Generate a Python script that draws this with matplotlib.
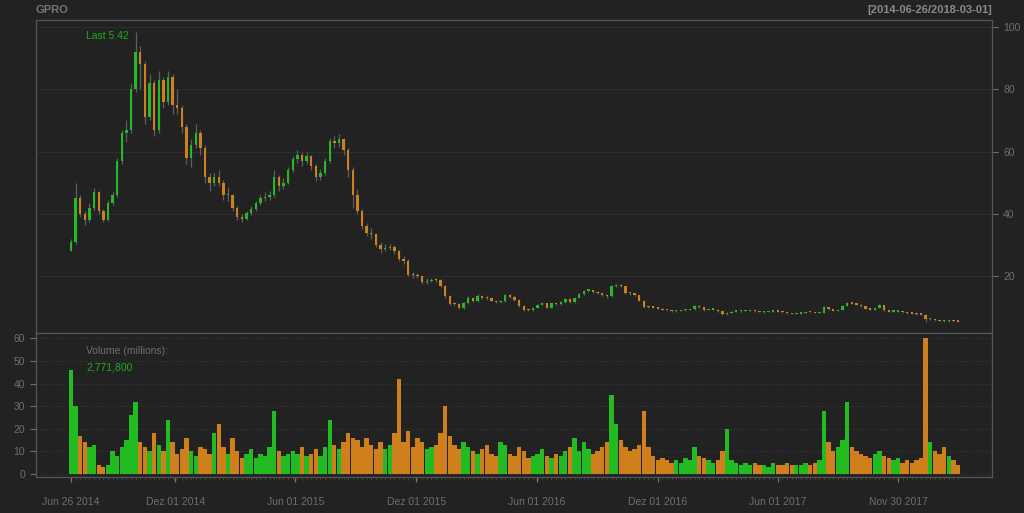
import pandas as pd
import matplotlib
matplotlib.use("Agg")
import matplotlib.pyplot as plt
import matplotlib.dates as mdates

plt.rcParams["font.family"] = ["Liberation Sans", "DejaVu Sans"]

BG = "#222222"
FRAME = "#555555"
TXT = "#6e6e6e"
UP = "#22bb22"
DN = "#cf7f1c"
WICK = "#5e5e5e"
GREEN_TXT = "#1aae1a"

# weekly candles (one value per week, starting 2014-06-26)
start_date = "2014-06-26"
first_open = 28.0
closes = [
    31, 45, 40, 38, 42, 47, 41, 38, 43.6, 46, 57, 66, 67, 80, 92, 88, 71, 82, 67, 83,
    76, 84, 75, 74, 68, 58, 62, 66, 61, 52, 50, 52, 50, 46, 46, 42, 39, 38.5, 40.3, 41.5,
    43.5, 45, 45.5, 46, 52, 49, 50, 54, 57.5, 59, 57, 58.5, 55.5, 52, 53, 57, 63.5, 62.8, 64, 60.5,
    54, 46, 41, 36, 34, 33.5, 30, 28.8, 29, 29.5, 28, 25.5, 25, 20.5, 20.3, 20, 18, 18.5, 18.8, 18.7,
    17, 13.5, 11.2, 11, 9.8, 11.4, 12.9, 12, 13.8, 13, 12.9, 12.2, 11.8, 12, 14, 13.4, 12.5, 10.5, 9.2, 9,
    9.8, 10.8, 11.3, 9.9, 11.3, 11, 11.6, 12.8, 11.6, 13, 14.3, 15.4, 15.5, 15, 14.5, 13.9, 13.5, 16.8, 17.2, 16.8,
    14.6, 14.5, 14, 12.2, 10.2, 10, 9.9, 9.6, 9.2, 9, 8.8, 8.9, 9, 9.2, 9.4, 10.5, 10, 9.1, 9.3, 9.3,
    8.7, 7.9, 8.2, 8.6, 8.7, 8.8, 8.9, 9, 8.8, 8.5, 8.5, 8.6, 8.7, 8.6, 8.5, 8.1, 7.9, 8, 8.2, 8.5,
    8.4, 8.2, 8.3, 10.1, 9.5, 8.9, 9.1, 10.5, 11.3, 11.2, 10.9, 10.4, 9.6, 9.3, 9.8, 10.7, 9.1, 8.6, 8.6, 8.7,
    8.4, 8.1, 8, 7.9, 7.7, 6.2, 6.2, 5.9, 5.7, 5.5, 5.6, 5.5, 5.42,
]
highs = [
    32, 49.9, 46, 41, 43.5, 48.3, 47.5, 41.5, 44.5, 47, 58, 67, 70, 82, 98.5, 94, 89, 85, 83, 86,
    84, 86, 85, 80, 75, 69, 64, 69, 67, 62, 53, 53, 54, 51, 48.5, 46.5, 42.5, 40, 41, 42.5,
    44, 46, 47, 47.5, 54, 52.5, 51.5, 55, 58.5, 60.5, 60, 60, 59, 56, 54.5, 58, 64.5, 65, 65.5, 64.5,
    61, 55, 48, 41.5, 37, 35.5, 34, 31, 30.5, 30.5, 30, 28.5, 26.5, 25.5, 21.5, 21, 20.2, 19.5, 19.5, 19.5,
    19, 17.2, 14, 11.8, 11.3, 11.8, 13.5, 13.2, 14.3, 14, 13.5, 13.1, 12.5, 12.5, 14.4, 14.2, 13.6, 12.6, 10.6, 9.5,
    10, 11, 11.6, 11.4, 11.5, 11.5, 11.9, 13, 12.9, 13.3, 14.6, 15.7, 15.9, 15.7, 15.2, 14.7, 14.1, 17.1, 17.6, 17.4,
    16.9, 15, 14.7, 14.1, 12.3, 10.4, 10.2, 10.1, 9.7, 9.3, 9.1, 9.1, 9.2, 9.4, 9.6, 10.9, 10.6, 10.1, 9.5, 9.5,
    9.4, 8.8, 8.4, 8.8, 8.9, 9, 9.1, 9.2, 9.1, 8.9, 8.7, 8.8, 8.9, 8.8, 8.7, 8.6, 8.2, 8.2, 8.3, 8.6,
    8.6, 8.5, 8.4, 10.3, 10.2, 9.6, 9.3, 10.7, 11.6, 11.5, 11.3, 11, 10.5, 9.7, 10, 11, 10.8, 9.2, 8.8, 8.9,
    8.8, 8.5, 8.2, 8.1, 8, 7.8, 6.5, 6.3, 6, 5.8, 5.8, 5.7, 5.6,
]
lows = [
    28, 30.5, 39, 36.4, 37.5, 41, 40, 37.5, 37.8, 43, 45.5, 56, 63, 66, 79, 80, 69, 70, 65, 66,
    74, 75, 72, 72, 66, 56, 55, 61, 59, 50, 47.5, 49, 49, 44.5, 44, 41, 38, 37.5, 38, 39.5,
    41, 43, 44, 44.5, 45.5, 47.5, 48, 49.5, 53.5, 56.5, 55.5, 56, 54, 50.5, 51, 52.5, 56.5, 61, 61.5, 59,
    52, 42, 40, 35, 33, 32, 29.5, 27.5, 28, 28.5, 27, 25, 24, 20, 19.5, 19.3, 17.5, 17.5, 18, 18,
    16.5, 13, 10.8, 10.4, 9.4, 9.6, 11.2, 11.6, 11.8, 12.6, 12.5, 11.9, 11.4, 11.5, 11.8, 13, 12.2, 10.2, 8.9, 8.8,
    8.9, 9.7, 10.6, 9.7, 9.8, 10.8, 10.9, 11.5, 11.4, 11.5, 12.9, 14.1, 15, 14.7, 14.2, 13.6, 13.1, 13.4, 16.5, 16.4,
    14.3, 14.1, 13.6, 11.9, 9.9, 9.8, 9.7, 9.4, 9, 8.8, 8.6, 8.6, 8.7, 8.9, 9.1, 9.3, 9.8, 8.9, 9, 9.1,
    8.5, 7.6, 7.7, 8.1, 8.5, 8.6, 8.7, 8.8, 8.6, 8.4, 8.3, 8.4, 8.5, 8.4, 8.3, 8, 7.8, 7.8, 7.9, 8.1,
    8.3, 8.1, 8.1, 8.2, 9.3, 8.7, 8.8, 9, 10.4, 11, 10.7, 10.2, 9.4, 9.1, 9.2, 9.7, 8.9, 8.4, 8.4, 8.5,
    8.2, 8, 7.8, 7.7, 7.5, 5.4, 5.9, 5.7, 5.5, 5.3, 5.4, 5.3, 5.3,
]
# volume in millions (weekly, peak-ish daily level)
volumes = [
    46, 30, 17, 14, 12, 13, 4, 3, 4, 10, 8, 12, 15, 26, 32, 14, 12, 10, 18, 13,
    10, 24, 14, 9, 11, 16, 10, 8, 12, 11, 9, 18, 22, 12, 9, 16, 10, 7, 9, 11,
    7, 9, 8, 12, 28, 10, 8, 9, 10, 9, 12, 8, 9, 11, 8, 12, 24, 13, 11, 14,
    18, 16, 15, 12, 16, 13, 11, 14, 11, 13, 18, 42, 14, 19, 12, 16, 14, 11, 12, 13,
    18, 30, 17, 13, 11, 14, 12, 10, 9, 11, 13, 9, 8, 14, 13, 9, 8, 12, 10, 7,
    8, 9, 11, 8, 7, 9, 8, 10, 12, 16, 10, 14, 11, 9, 10, 12, 14, 35, 22, 15,
    12, 10, 11, 13, 28, 12, 8, 6, 7, 6, 5, 6, 5, 7, 6, 12, 8, 7, 6, 5,
    6, 10, 20, 6, 5, 4, 5, 4, 5, 4, 4, 3, 5, 4, 4, 5, 4, 4, 4, 5,
    4, 5, 6, 28, 14, 10, 12, 15, 32, 12, 10, 9, 8, 7, 9, 10, 8, 7, 6, 7,
    5, 6, 5, 6, 7, 60, 14, 10, 9, 12, 8, 6, 4,
]

tick_dates = ["2014-06-26", "2014-12-01", "2015-06-01", "2015-12-01",
              "2016-06-01", "2016-12-01", "2017-06-01", "2017-11-30"]
tick_labels = ["Jun 26 2014", "Dez 01 2014", "Jun 01 2015", "Dez 01 2015",
               "Jun 01 2016", "Dez 01 2016", "Jun 01 2017", "Nov 30 2017"]
price_ticks = [20, 40, 60, 80, 100]
volume_ticks = [0, 10, 20, 30, 40, 50, 60]

symbol = "GPRO"
range_label = "[2014-06-26/2018-03-01]"
last_label = "Last 5.42"
volume_title = "Volume (millions):"
volume_last = "2,771,800"

dates = pd.date_range(start_date, periods=len(closes), freq="7D")
x = mdates.date2num(dates)
opens = [first_open] + closes[:-1]
colors = [UP if c >= o else DN for o, c in zip(opens, closes)]
x0 = x[0]
xlim = (x0 - 53.0, x0 + 1395.5)


def style_axes(ax):
    ax.set_facecolor(BG)
    for s in ax.spines.values():
        s.set_color(FRAME)
        s.set_linewidth(0.9)
    ax.set_xlim(*xlim)


fig = plt.figure(figsize=(10.24, 5.13), dpi=100, facecolor=BG)

# price panel
ax = fig.add_axes([36 / 1024, 180 / 513, 956 / 1024, 313 / 513])
style_axes(ax)
ax.set_ylim(1.77, 102.25)
ax.yaxis.tick_right()
ax.set_yticks(price_ticks)
ax.tick_params(axis="y", colors=TXT, labelcolor=TXT, labelsize=7.5, length=4, width=0.8, pad=4)
ax.set_xticks([])
ax.grid(axis="y", color="#2d2d2d", linewidth=0.8)
ax.set_axisbelow(True)

ax.vlines(x, lows, highs, color=WICK, linewidth=0.9, zorder=2)
bottoms = [min(o, c) for o, c in zip(opens, closes)]
heights = [max(abs(c - o), 0.4) for o, c in zip(opens, closes)]
ax.bar(x, heights, bottom=bottoms, width=3.6, color=colors, linewidth=0, zorder=3)

ax.text((86 - 36) / 956, (333 - 36) / 313, last_label, transform=ax.transAxes,
        color=GREEN_TXT, fontsize=7.5, va="center", ha="left")

# volume panel
vax = fig.add_axes([36 / 1024, 36 / 513, 956 / 1024, 144 / 513])
style_axes(vax)
vax.set_ylim(-1.35, 62.4)
vax.set_yticks(volume_ticks)
vax.tick_params(axis="y", colors=TXT, labelcolor=TXT, labelsize=7.5, length=4, width=0.8, pad=4)
vax.grid(axis="y", color="#3a3a3a", linewidth=0.8, linestyle=(0, (1, 2)))
vax.set_axisbelow(True)
vax.bar(x, volumes, width=6.6, color=colors, linewidth=0, zorder=3)

vax.set_xticks(mdates.date2num(pd.to_datetime(tick_dates)))
vax.set_xticklabels(tick_labels)
vax.set_xticks(x, minor=True)
vax.tick_params(axis="x", which="major", colors="#777777", labelcolor=TXT, labelsize=7.5,
                length=3.5, width=0.9, pad=11)
vax.tick_params(axis="x", which="minor", colors="#444444", length=2, width=0.6)

vax.text((86 - 36) / 956, (477 - 351) / 144, volume_title, transform=vax.transAxes,
         color=TXT, fontsize=7.5, va="center", ha="left")
vax.text((86 - 36) / 956, (477 - 367) / 144, volume_last, transform=vax.transAxes,
         color=GREEN_TXT, fontsize=7.5, va="center", ha="left")

# header
fig.text(36 / 1024, 1 - 10 / 513, symbol, color="#777777", fontsize=8, fontweight="bold",
         va="center", ha="left")
fig.text(992 / 1024, 1 - 10 / 513, range_label, color="#8a8a8a", fontsize=8,
         fontweight="bold", va="center", ha="right")

fig.savefig("out.png", dpi=100, facecolor=BG)
